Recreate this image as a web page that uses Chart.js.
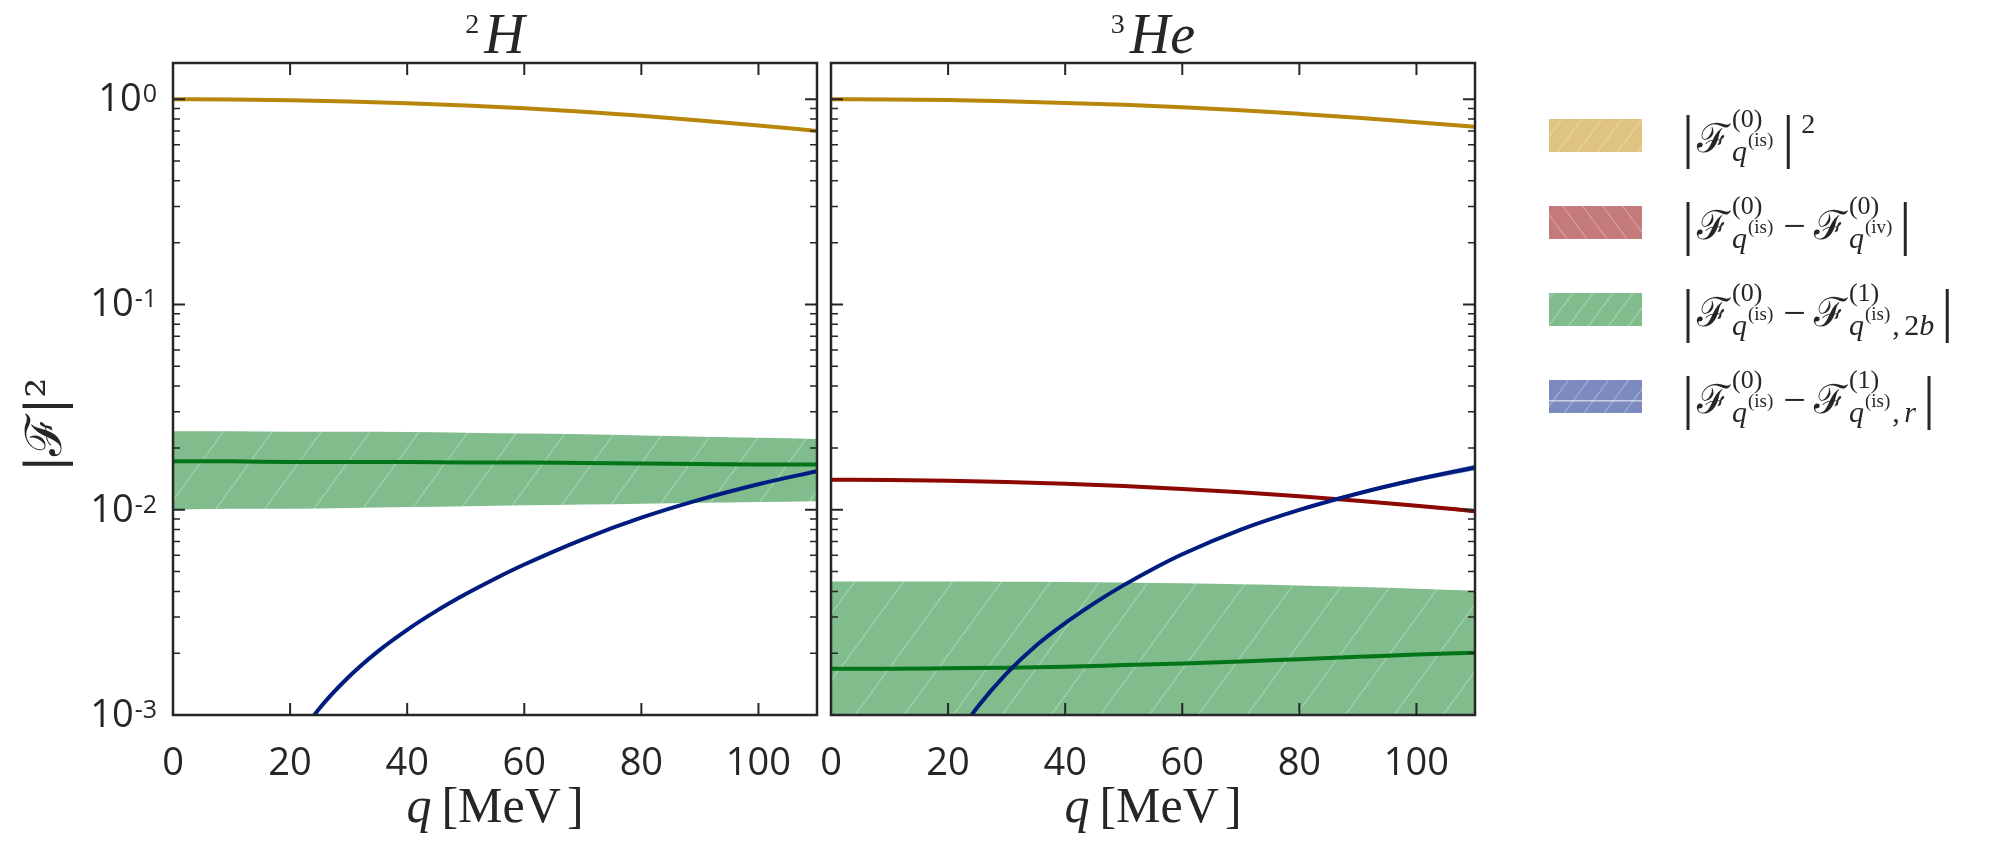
<!DOCTYPE html>
<html>
<head>
<meta charset="utf-8">
<script src="https://cdn.jsdelivr.net/npm/chart.js@4.4.0/dist/chart.umd.min.js"></script>
<style>
html, body { margin: 0; padding: 0; background: #fff; }
#wrap { position: relative; width: 2005px; height: 852px; }
canvas { position: absolute; top: 0; }
#cH { left: 0; }
#cHe { left: 790px; }
</style>
</head>
<body>
<div id="wrap">
  <canvas id="cH" width="826" height="852"></canvas>
  <canvas id="cHe" width="1215" height="852"></canvas>
</div>
<script>
// momentum transfer grid [MeV]
var q = [0, 10, 20, 30, 40, 50, 60, 70, 80, 90, 100, 110];
var qBlue = [22, 25, 30, 35, 40, 45, 50, 55, 60, 70, 80, 90, 100, 110];

// 2H
var goldH    = [1.0, 0.997, 0.988, 0.974, 0.955, 0.932, 0.904, 0.869, 0.830, 0.788, 0.745, 0.700];
var greenH   = [0.0172, 0.0172, 0.0171, 0.0171, 0.0171, 0.0170, 0.0170, 0.0169, 0.0168, 0.0167, 0.0166, 0.0166];
var greenHHi = [0.0241, 0.0241, 0.0240, 0.0240, 0.0239, 0.0237, 0.0235, 0.0233, 0.0230, 0.0227, 0.0224, 0.0221];
var greenHLo = [0.0100, 0.0101, 0.0101, 0.0102, 0.0103, 0.0104, 0.0105, 0.0106, 0.0107, 0.0108, 0.0109, 0.0110];
var blueH    = [0.000822, 0.001076, 0.001531, 0.002042, 0.002600, 0.003214, 0.003882, 0.004613, 0.005408, 0.007178, 0.009142, 0.011194, 0.013305, 0.015417];

// 3He
var goldHe    = [1.0, 0.9974, 0.9898, 0.977, 0.959, 0.938, 0.912, 0.882, 0.848, 0.812, 0.771, 0.733];
var goldHeHi  = [1.0, 0.9975, 0.9903, 0.978, 0.961, 0.941, 0.916, 0.887, 0.855, 0.820, 0.780, 0.744];
var goldHeLo  = [1.0, 0.9973, 0.9893, 0.976, 0.957, 0.935, 0.908, 0.877, 0.841, 0.804, 0.762, 0.722];
var redHe     = [0.01400, 0.01396, 0.01384, 0.01364, 0.01337, 0.01303, 0.01262, 0.01215, 0.01163, 0.01106, 0.01046, 0.00984];
var redHeHi   = [0.01400, 0.01396, 0.01385, 0.01366, 0.01340, 0.01307, 0.01268, 0.01223, 0.01173, 0.01119, 0.01062, 0.01004];
var redHeLo   = [0.01400, 0.01396, 0.01383, 0.01362, 0.01334, 0.01299, 0.01256, 0.01207, 0.01153, 0.01093, 0.01030, 0.00964];
var greenHe   = [0.00168, 0.00168, 0.00169, 0.00170, 0.00172, 0.00175, 0.00178, 0.00182, 0.00187, 0.00192, 0.00197, 0.00201];
var greenHeHi = [0.00447, 0.00447, 0.00447, 0.00446, 0.00445, 0.00442, 0.00438, 0.00433, 0.00427, 0.00420, 0.00412, 0.00403];
var greenHeLo = [0.0005, 0.0005, 0.0005, 0.0005, 0.0005, 0.0005, 0.0005, 0.0005, 0.0005, 0.0005, 0.0005, 0.0005];
var blueHe    = [0.000827, 0.001090, 0.001594, 0.002175, 0.002803, 0.003508, 0.004291, 0.005146, 0.006067, 0.007998, 0.009977, 0.011995, 0.014028, 0.016069];
var blueHeHi  = [0.000828, 0.001092, 0.001598, 0.002182, 0.002814, 0.003526, 0.004318, 0.005185, 0.006121, 0.008094, 0.010136, 0.012235, 0.014376, 0.016551];
var blueHeLo  = [0.000826, 0.001088, 0.001590, 0.002168, 0.002792, 0.003490, 0.004264, 0.005107, 0.006013, 0.007902, 0.009818, 0.011755, 0.013680, 0.015587];

// ticks
var xTicks = [0, 20, 40, 60, 80, 100];
var yDecades = [-3, -2, -1, 0];
var yMinor = [2, 3, 4, 5, 6, 7, 8, 9];

var INK = '#262626';
var LINE = { gold: '#b8860b', red: '#8c0800', green: '#017517', blue: '#001c7f' };
var FILL = { gold: 'rgb(222,196,128)', red: 'rgb(196,122,122)', green: 'rgb(129,188,141)', blue: 'rgb(125,138,192)' };
var SERIF = '"Liberation Serif", "DejaVu Serif", serif';
var MATHF = '"DejaVu Serif", "Liberation Serif", serif';

function hatch(color, dir, w, h) {
  var c = document.createElement('canvas');
  c.width = w; c.height = h;
  var g = c.getContext('2d');
  g.fillStyle = color;
  g.fillRect(0, 0, w, h);
  g.strokeStyle = 'rgba(255,255,255,0.3)';
  g.lineWidth = 1.2;
  for (var k = -1; k <= 1; k++) {
    g.beginPath();
    if (dir === '/') { g.moveTo(k * w, h); g.lineTo(k * w + w, 0); }
    else { g.moveTo(k * w, 0); g.lineTo(k * w + w, h); }
    g.stroke();
  }
  return g.createPattern(c, 'repeat');
}

function pts(xs, ys) { return xs.map(function (x, i) { return { x: x, y: ys[i] }; }); }
function line(xs, ys, color) {
  return { data: pts(xs, ys), borderColor: color, borderWidth: 4, pointRadius: 0,
           fill: false, cubicInterpolationMode: 'monotone', order: 0 };
}
function band(xs, hi, lo, bg) {
  return [
    { data: pts(xs, hi), borderColor: 'rgba(0,0,0,0)', borderWidth: 0, pointRadius: 0,
      backgroundColor: bg, fill: '+1', cubicInterpolationMode: 'monotone', order: 5 },
    { data: pts(xs, lo), borderColor: 'rgba(0,0,0,0)', borderWidth: 0, pointRadius: 0,
      fill: false, cubicInterpolationMode: 'monotone', order: 5 }
  ];
}

function drawFrame(chart) {
  var ctx = chart.ctx, a = chart.chartArea, sx = chart.scales.x, sy = chart.scales.y;
  ctx.save();
  ctx.strokeStyle = INK;
  ctx.lineWidth = 2;
  ctx.beginPath();
  yDecades.forEach(function (e) {
    var y = sy.getPixelForValue(Math.pow(10, e));
    ctx.moveTo(a.left, y); ctx.lineTo(a.left + 12, y);
    ctx.moveTo(a.right, y); ctx.lineTo(a.right - 12, y);
  });
  xTicks.forEach(function (v) {
    var x = sx.getPixelForValue(v);
    ctx.moveTo(x, a.bottom); ctx.lineTo(x, a.bottom - 12);
    ctx.moveTo(x, a.top); ctx.lineTo(x, a.top + 12);
  });
  ctx.stroke();
  ctx.lineWidth = 1.5;
  ctx.beginPath();
  yDecades.forEach(function (e) {
    yMinor.forEach(function (m) {
      var v = m * Math.pow(10, e);
      if (v > sy.max) return;
      var y = sy.getPixelForValue(v);
      ctx.moveTo(a.left, y); ctx.lineTo(a.left + 7, y);
      ctx.moveTo(a.right, y); ctx.lineTo(a.right - 7, y);
    });
  });
  ctx.stroke();
  ctx.lineWidth = 2.5;
  ctx.strokeRect(a.left, a.top, a.right - a.left, a.bottom - a.top);
  ctx.restore();
}

function drawTitle(chart, sup, main) {
  var ctx = chart.ctx, a = chart.chartArea;
  var c = (a.left + a.right) / 2;
  ctx.save();
  ctx.fillStyle = INK;
  ctx.textBaseline = 'alphabetic';
  ctx.font = '28px ' + SERIF;
  var sw = ctx.measureText(sup).width;
  ctx.font = 'italic 56px ' + SERIF;
  var mw = ctx.measureText(main).width;
  var x0 = c - (sw + 5 + mw) / 2;
  ctx.fillText(main, x0 + sw + 5, 53);
  ctx.font = '28px ' + SERIF;
  ctx.fillText(sup, x0, 33);
  // x axis label  q [MeV]
  ctx.font = 'italic 50px ' + SERIF;
  var qw = ctx.measureText('q').width;
  ctx.font = '50px ' + SERIF;
  var bw = ctx.measureText('[').width, mw2 = ctx.measureText('MeV').width, cw = ctx.measureText(']').width;
  var tot = qw + 10 + bw + mw2 + 6 + cw;
  var x = c - tot / 2, by = a.bottom + 107;
  ctx.font = 'italic 50px ' + SERIF;
  ctx.fillText('q', x, by); x += qw + 10;
  ctx.font = '50px ' + SERIF;
  ctx.fillText('[', x, by); x += bw;
  ctx.fillText('MeV', x, by); x += mw2 + 6;
  ctx.fillText(']', x, by);
  ctx.restore();
}

function drawYLabels(chart) {
  var ctx = chart.ctx, a = chart.chartArea, sy = chart.scales.y;
  ctx.save();
  ctx.fillStyle = INK;
  ctx.textBaseline = 'alphabetic';
  yDecades.forEach(function (e) {
    var y = sy.getPixelForValue(Math.pow(10, e));
    var ex = e < 0 ? '-' + (-e) : String(e);
    ctx.font = '25px "Open Sans"';
    var ew = ctx.measureText(ex).width;
    var right = a.left - 16;
    ctx.textAlign = 'left';
    ctx.fillText(ex, right - ew, y + 3);
    ctx.font = '38px "Open Sans"';
    ctx.textAlign = 'right';
    ctx.fillText('10', right - ew - 1, y + 12);
  });
  // y axis title |F|^2
  ctx.translate(45, 425);
  ctx.rotate(-Math.PI / 2);
  ctx.textAlign = 'center';
  ctx.font = '50px ' + MATHF;
  ctx.fillText('|\u2131|\u00b2', 0, 16);
  ctx.restore();
}

// legend
var legendRows = [
  { fill: FILL.gold, dir: '/', term2: null },
  { fill: FILL.red, dir: '\\', term2: { sup: '(0)', sub: '(iv)', extra: null } },
  { fill: FILL.green, dir: '/', term2: { sup: '(1)', sub: '(is)', extra: ['2', 'b'] } },
  { fill: FILL.blue, dir: '/', term2: { sup: '(1)', sub: '(is)', extra: ['', 'r'] } }
];

function drawTerm(ctx, t, B, sup, subsup, extra) {
  ctx.textAlign = 'left';
  ctx.font = '40px ' + MATHF;
  ctx.fillText('\u2131', t, B);
  var s = t + 35;
  ctx.font = '26px ' + SERIF;
  ctx.fillText(sup, s, B - 25);
  var supW = ctx.measureText(sup).width;
  ctx.font = 'italic 30px ' + SERIF;
  ctx.fillText('q', s, B + 9);
  var qw = ctx.measureText('q').width;
  ctx.font = '19px ' + SERIF;
  ctx.fillText(subsup, s + qw + 1, B - 6);
  var subW = qw + 1 + ctx.measureText(subsup).width;
  var end = s + Math.max(supW, subW);
  if (extra) {
    ctx.font = '30px ' + SERIF;
    ctx.fillText(',', end + 2, B + 9);
    var x = end + 14;
    if (extra[0]) { ctx.fillText(extra[0], x, B + 9); x += ctx.measureText(extra[0]).width; }
    ctx.font = 'italic 30px ' + SERIF;
    ctx.fillText(extra[1], x, B + 9);
    end = x + ctx.measureText(extra[1]).width;
  }
  return end;
}

function bar(ctx, x, B) {
  ctx.textAlign = 'center';
  ctx.textBaseline = 'middle';
  ctx.font = '60px ' + SERIF;
  ctx.fillText('|', x, B - 12);
  ctx.textBaseline = 'alphabetic';
}

function drawLegend(chart, ox) {
  var ctx = chart.ctx;
  ctx.save();
  ctx.fillStyle = INK;
  legendRows.forEach(function (r, i) {
    var B = 152 + 87 * i;
    ctx.save();
    ctx.fillStyle = hatch(r.fill, r.dir, 20, 27);
    ctx.fillRect(1549 - ox, B - 33, 93, 33);
    if (i === 3) {
      ctx.fillStyle = 'rgba(255,255,255,0.6)';
      ctx.fillRect(1549 - ox, B - 13, 93, 1.5);
    }
    ctx.restore();
    ctx.fillStyle = INK;
    bar(ctx, 1688 - ox, B);
    var end = drawTerm(ctx, 1697 - ox, B, '(0)', '(is)', null);
    if (!r.term2) {
      bar(ctx, end + 15, B);
      ctx.textAlign = 'left';
      ctx.font = '28px ' + SERIF;
      ctx.fillText('2', end + 28, B - 19);
      return;
    }
    ctx.textAlign = 'left';
    ctx.font = '40px ' + SERIF;
    ctx.fillText('\u2212', end + 10, B);
    var mw = ctx.measureText('\u2212').width;
    var end2 = drawTerm(ctx, end + 10 + mw + 8, B, r.term2.sup, r.term2.sub, r.term2.extra);
    bar(ctx, end2 + 13, B);
  });
  ctx.restore();
}

function scalesFor(yWidth) {
  return {
    x: {
      type: 'linear', min: 0, max: 110,
      afterBuildTicks: function (s) { s.ticks = xTicks.map(function (v) { return { value: v }; }); },
      afterFit: function (s) { s.height = 137; },
      grid: { display: false, drawTicks: false },
      border: { display: false },
      ticks: { font: { family: 'Open Sans', size: 38 }, color: INK, padding: 26, maxRotation: 0, autoSkip: false }
    },
    y: {
      type: 'logarithmic', min: 0.001, max: 1.5,
      afterFit: function (s) { s.width = yWidth; },
      grid: { display: false, drawTicks: false },
      border: { display: false },
      ticks: { display: false }
    }
  };
}

var greenPat = hatch(FILL.green, '/', 49, 67);

new Chart(document.getElementById('cH'), {
  type: 'line',
  data: {
    datasets: [
      line(q, goldH, LINE.gold),
      line(qBlue, blueH, LINE.blue),
      line(q, greenH, LINE.green)
    ].concat(band(q, greenHHi, greenHLo, greenPat))
  },
  options: {
    responsive: false, animation: false, devicePixelRatio: 1,
    layout: { padding: { top: 63, right: 9, left: 0, bottom: 0 } },
    plugins: { legend: { display: false }, tooltip: { enabled: false } },
    scales: scalesFor(173)
  },
  plugins: [{
    id: 'deco',
    afterDraw: function (chart) {
      drawFrame(chart);
      drawYLabels(chart);
      drawTitle(chart, '2', 'H');
    }
  }]
});

new Chart(document.getElementById('cHe'), {
  type: 'line',
  data: {
    datasets: [
      line(q, goldHe, LINE.gold),
      line(qBlue, blueHe, LINE.blue),
      line(q, redHe, LINE.red),
      line(q, greenHe, LINE.green)
    ].concat(band(q, goldHeHi, goldHeLo, hatch(FILL.gold, '/', 49, 67)))
     .concat(band(q, redHeHi, redHeLo, hatch(FILL.red, '\\', 49, 67)))
     .concat(band(qBlue, blueHeHi, blueHeLo, hatch(FILL.blue, '/', 49, 67)))
     .concat(band(q, greenHeHi, greenHeLo, greenPat))
  },
  options: {
    responsive: false, animation: false, devicePixelRatio: 1,
    layout: { padding: { top: 63, right: 530, left: 0, bottom: 0 } },
    plugins: { legend: { display: false }, tooltip: { enabled: false } },
    scales: scalesFor(41)
  },
  plugins: [{
    id: 'deco',
    afterDraw: function (chart) {
      drawFrame(chart);
      drawTitle(chart, '3', 'He');
      drawLegend(chart, 790);
    }
  }]
});
</script>
</body>
</html>
